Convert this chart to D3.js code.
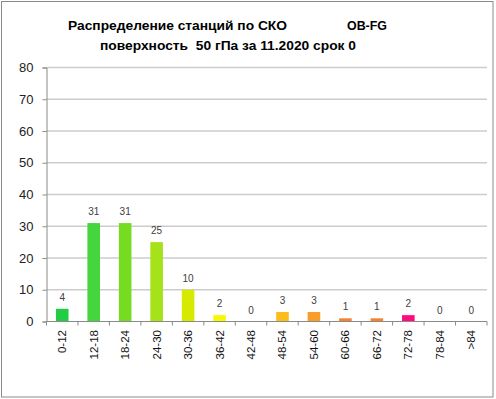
<!DOCTYPE html>
<html><head><meta charset="utf-8">
<script src="https://cdn.jsdelivr.net/npm/d3@7"></script>
<style>html,body{margin:0;padding:0;background:#fff;}svg{display:block;}</style>
</head><body>
<svg id="c" width="496" height="399"></svg>
<script>
const categories = ["0-12","12-18","18-24","24-30","30-36","36-42","42-48","48-54","54-60","60-66","66-72","72-78","78-84",">84"];
const values = [4,31,31,25,10,2,0,3,3,1,1,2,0,0];
const barColors = ["#22cc44","#44d63c","#76dc22","#a6e21a","#d6ea00","#f8f800","#f0c000","#fbbd1c","#fa9c2c","#f7822e","#f7822e","#ff0a80","#999","#999"];
const yTicks = [0,10,20,30,40,50,60,70,80];
const titleLine1a = "Распределение станций по СКО";
const titleLine1b = "OB-FG";
const titleLine2 = "поверхность  50 гПа за 11.2020 срок 0";

const svg = d3.select("#c");
const m = {left: 46.5, right: 487, top: 67.5, bottom: 321.5};

svg.append("rect").attr("x",1.5).attr("y",1.5).attr("width",491.5).attr("height",395.5)
  .attr("fill","#fff").attr("stroke","#8a8a8a").attr("stroke-width",1);

const x = d3.scaleBand().domain(categories).range([m.left, m.right]).paddingInner(0.6).paddingOuter(0.3);
const y = d3.scaleLinear().domain([0,80]).range([m.bottom, m.top]);

// gridlines
svg.append("g").selectAll("line").data(yTicks.filter(d=>d>0)).join("line")
  .attr("x1", m.left).attr("x2", m.right)
  .attr("y1", d=>y(d)).attr("y2", d=>y(d))
  .attr("stroke","#cccccc").attr("stroke-width",1.5);

// y axis
const ya = svg.append("g").attr("transform",`translate(${m.left},0)`)
  .call(d3.axisLeft(y).tickValues(yTicks).tickSize(4).tickPadding(9));
ya.select(".domain").attr("stroke","#8a8a8a");
ya.selectAll(".tick line").attr("stroke","#8a8a8a");
ya.selectAll("text").attr("font-family","Liberation Sans, Arial, sans-serif").attr("font-size",13).attr("fill","#222");

// bars
svg.append("g").selectAll("rect").data(values).join("rect")
  .attr("x",(d,i)=>x(categories[i]))
  .attr("width", x.bandwidth())
  .attr("y", d=>y(d))
  .attr("height", d=>y(0)-y(d))
  .attr("fill",(d,i)=>barColors[i]);

// x axis
const step = x.step();
const xg = svg.append("g");
xg.append("line").attr("x1",m.left).attr("x2",m.right).attr("y1",y(0)).attr("y2",y(0)).attr("stroke","#8a8a8a");
const bounds = categories.map(c=>x(c) - step*0.3).concat([m.right]);
xg.selectAll("line.t").data(bounds).join("line").attr("class","t")
  .attr("x1",d=>d).attr("x2",d=>d).attr("y1",y(0)).attr("y2",y(0)+4).attr("stroke","#8a8a8a");
xg.selectAll("text").data(categories).join("text")
  .attr("transform", d=>`translate(${x(d)+x.bandwidth()/2+4},330) rotate(-90)`)
  .attr("text-anchor","end")
  .attr("font-family","Liberation Sans, Arial, sans-serif").attr("font-size",11.5).attr("fill","#111")
  .text(d=>d);

// data labels
svg.append("g").selectAll("text").data(values).join("text")
  .attr("x",(d,i)=>x(categories[i])+x.bandwidth()/2)
  .attr("y", d=>y(d)-8)
  .attr("text-anchor","middle")
  .attr("font-family","Liberation Sans, Arial, sans-serif").attr("font-size",10).attr("fill","#404040")
  .text(d=>d);

// title
const tf = "Liberation Sans, Arial, sans-serif";
function title(txt, x0, y0, w){
  return svg.append("text").attr("x",x0).attr("y",y0).attr("font-family",tf).attr("font-weight","bold")
    .attr("font-size",13.5).attr("fill","#000").style("white-space","pre")
    .attr("textLength",w).attr("lengthAdjust","spacingAndGlyphs").text(txt);
}
title(titleLine1a, 68, 30, 219);
title(titleLine1b, 347, 30, 40);
title(titleLine2, 100, 49.5, 256);
</script>
</body></html>
